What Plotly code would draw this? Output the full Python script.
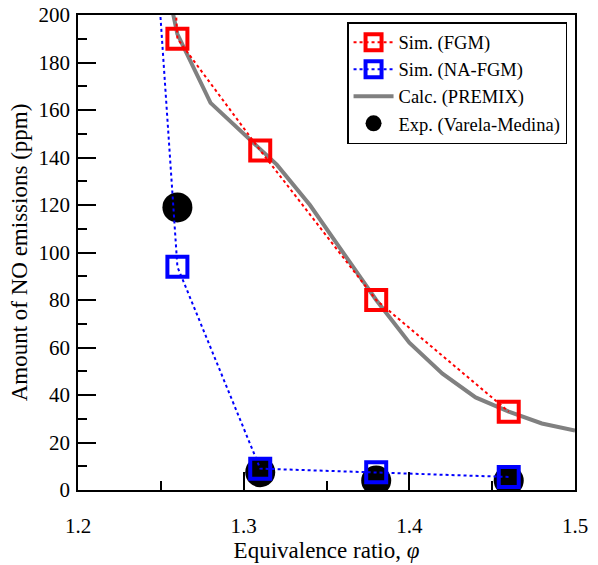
import plotly.graph_objects as go

# Data
phi_fgm = [1.25, 1.26, 1.31, 1.38, 1.46]
no_fgm = [320, 190, 143, 80, 33]

phi_nafgm = [1.24, 1.26, 1.31, 1.38, 1.46]
no_nafgm = [300, 94, 9, 7.5, 5.5]

phi_premix = [1.256, 1.26, 1.28, 1.30, 1.32, 1.34, 1.36, 1.38, 1.40, 1.42, 1.44, 1.46, 1.48, 1.50]
no_premix = [205, 192, 163, 150, 137, 120, 100, 80, 62, 49, 39, 33, 28, 25]

phi_exp = [1.26, 1.31, 1.38, 1.46]
no_exp = [119, 7.5, 4, 4]

FONT = "Liberation Serif"
RED = "#ff0000"
BLUE = "#0000ff"
GRAY = "#808080"

fig = go.Figure()

fig.add_trace(go.Scatter(x=phi_exp, y=no_exp, mode="markers", name="Exp. (Varela-Medina)",
                         marker=dict(symbol="circle", size=30, color="black"),
                         legendrank=4))
fig.add_trace(go.Scatter(x=phi_premix, y=no_premix, mode="lines", name="Calc. (PREMIX)",
                         line=dict(color=GRAY, width=4), legendrank=3))
fig.add_trace(go.Scatter(x=phi_fgm, y=no_fgm, mode="lines+markers", name="Sim. (FGM)",
                         line=dict(color=RED, width=2, dash="dot"),
                         marker=dict(symbol="square-open", size=20, color=RED,
                                     line=dict(width=4, color=RED)),
                         legendrank=1))
fig.add_trace(go.Scatter(x=phi_nafgm, y=no_nafgm, mode="lines+markers", name="Sim. (NA-FGM)",
                         line=dict(color=BLUE, width=2, dash="dot"),
                         marker=dict(symbol="square-open", size=20, color=BLUE,
                                     line=dict(width=4, color=BLUE)),
                         legendrank=2))

axis_common = dict(showgrid=False, zeroline=False, showline=True, linecolor="black",
                   linewidth=1.5, mirror=True, ticks="inside", tickcolor="black",
                   tickwidth=1.5, ticklen=18, automargin=False,
                   tickfont=dict(family=FONT, size=21, color="black"))

fig.update_xaxes(range=[1.2, 1.5], tick0=1.2, dtick=0.1, tickformat=".1f",
                 minor=dict(ticks="inside", ticklen=9, tickwidth=1.5, tickcolor="black", dtick=0.05),
                 ticklabelstandoff=16,
                 title=dict(text="Equivalence ratio, <i>φ</i>", font=dict(family=FONT, size=23, color="black"),
                            standoff=2),
                 **axis_common)
fig.update_yaxes(range=[0, 200], tick0=0, dtick=20,
                 minor=dict(ticks="inside", ticklen=9, tickwidth=1.5, tickcolor="black", dtick=10),
                 ticklabelstandoff=2,
                 title=dict(text="Amount of NO emissions (ppm)", font=dict(family=FONT, size=23, color="black"),
                            standoff=4),
                 **axis_common)

fig.update_layout(
    width=598, height=565,
    margin=dict(l=78, r=23, t=15, b=75),
    plot_bgcolor="white", paper_bgcolor="white",
    showlegend=True,
    legend=dict(x=0.984, y=0.985, xanchor="right", yanchor="top",
                bgcolor="white", bordercolor="black", borderwidth=1.5,
                font=dict(family=FONT, size=18.5, color="black"),
                tracegroupgap=0, itemwidth=40),
)

fig.write_html("out.html")
